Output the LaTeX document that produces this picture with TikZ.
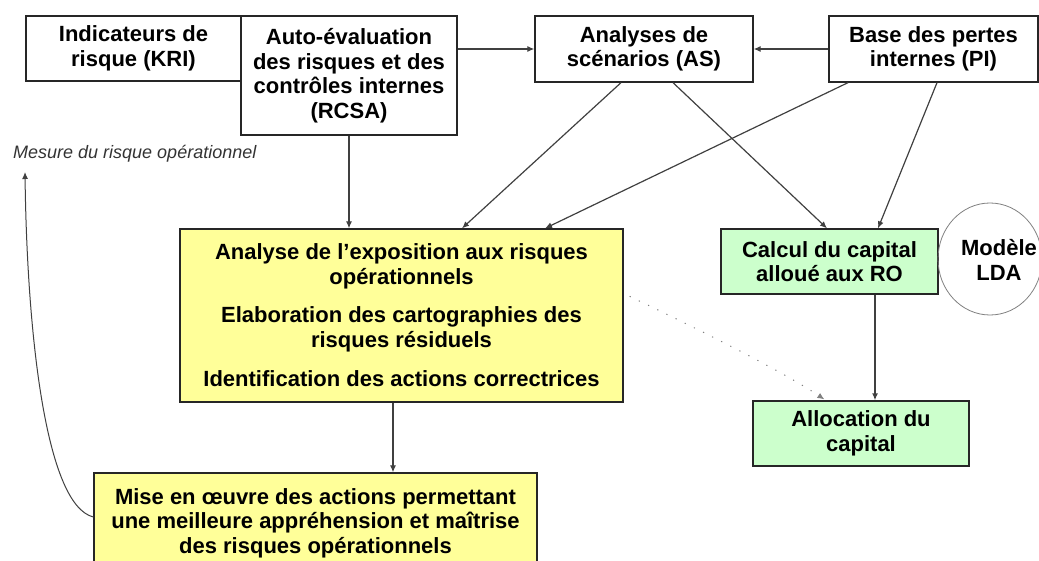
\documentclass[tikz,border=0pt]{standalone}
\usepackage{fontspec}
\setmainfont{Liberation Sans}
\usetikzlibrary{arrows.meta,calc,shapes.geometric}
\definecolor{yfill}{HTML}{FFFF99}
\definecolor{gfill}{HTML}{CCFFCC}
\definecolor{lcol}{HTML}{404040}
\begin{document}
\begin{tikzpicture}[x=1pt,y=-1pt,
  box/.style={draw=black!85, line width=1.3pt, align=center, inner sep=0pt,
    font=\fontsize{22}{24.5}\selectfont\bfseries},
  ybox/.style={box, fill=yfill},
  gbox/.style={box, fill=gfill},
  conn/.style={draw=lcol, line width=1.2pt, -{Latex[length=7pt,width=6pt]}},
  dotconn/.style={draw=gray, line width=1pt, dash pattern=on 1.2pt off 9pt, -{Latex[length=7pt,width=6pt]}},
]
\useasboundingbox (0,0) rectangle (1039,561);

\node[box, minimum width=215pt, minimum height=65pt] (kri) at (133.5,48.5) {Indicateurs de\\risque (KRI)};
\node[box, fill=white, minimum width=216pt, minimum height=119pt] (rcsa) at (349,75.5) {Auto-évaluation\\des risques et des\\contrôles internes\\(RCSA)};
\node[box, minimum width=218pt, minimum height=66pt] (as) at (644,49) {Analyses de\\scénarios (AS)};
\node[box, minimum width=209pt, minimum height=66pt] (pi) at (933.5,49) {Base des pertes\\internes (PI)};

\node[ybox, minimum width=443pt, minimum height=173pt] (y1) at (401.5,315.5)
  {Analyse de l'exposition aux risques\\opérationnels\\[14pt]Elaboration des cartographies des\\risques résiduels\\[15pt]Identification des actions correctrices};
\node[ybox, minimum width=443pt, minimum height=100pt] (y2) at (315.5,523)
  {Mise en œuvre des actions permettant\\une meilleure appréhension et maîtrise\\des risques opérationnels};

\node[gbox, minimum width=217pt, minimum height=65pt] (g1) at (829.5,261.5) {Calcul du capital\\alloué aux RO};
\node[gbox, minimum width=216pt, minimum height=65pt] (g2) at (861,433.5) {Allocation du\\capital};

\node[ellipse, draw=gray, line width=0.8pt, minimum width=104pt, minimum height=112pt] (circ) at (990,259) {};
\node[align=center, inner sep=0pt, font=\fontsize{22}{24.5}\selectfont\bfseries] (lda) at (999,260) {Modèle\\LDA};

\node[anchor=west, inner sep=0pt, font=\fontsize{18}{20}\selectfont\itshape, text=black!80] (mes) at (13,154) {Mesure du risque opérationnel};
\coordinate (mtip) at (25,172);

% connectors
\draw[conn] (rcsa.east |- as.west) -- (as.west);
\draw[conn] (pi.west) -- (as.east);
\draw[conn] (rcsa.south) -- (rcsa.south |- y1.north);
\draw[conn] ($(as.south)+(-23,0)$) -- ($(y1.north)+(60.5,0)$);
\draw[conn] ($(as.south)+(29,0)$) -- ($(g1.north)+(-2.5,0)$);
\draw[conn] ($(pi.south)+(-85.5,0)$) -- ($(y1.north)+(143.5,0)$);
\draw[conn] ($(pi.south)+(3.5,0)$) -- ($(g1.north)+(48.5,0)$);
\draw[conn, line width=1.6pt] ($(g1.south)+(45.5,0)$) -- ($(g2.north)+(14,0)$);
\draw[conn] ($(y1.south)+(-8.5,0)$) -- ($(y2.north)+(77.5,0)$);
\draw[dotconn] ($(y1.north east)+(6,68)$) .. controls (700,330) and (780,370) .. ($(g2.north west)+(72,-1)$);
\draw[conn, line width=1pt] ($(y2.west)+(0,-6)$) .. controls (45,505) and (27,330) .. (mtip);
\end{tikzpicture}
\end{document}
